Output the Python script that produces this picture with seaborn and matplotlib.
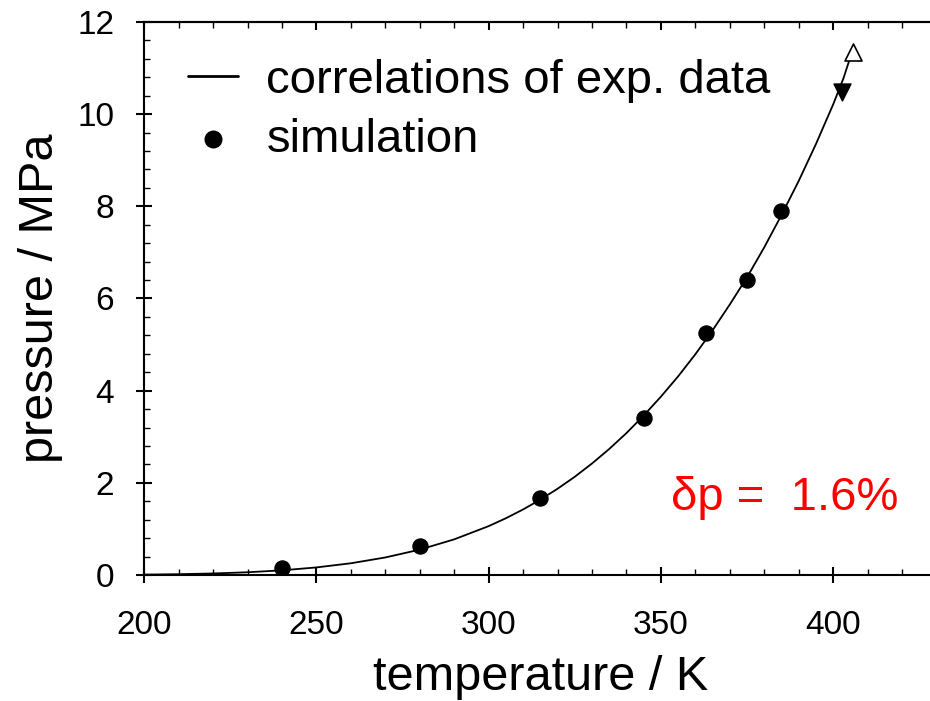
import matplotlib
matplotlib.use("Agg")
import matplotlib.pyplot as plt
import seaborn as sns
from matplotlib.ticker import MultipleLocator

corr_T = [200, 210, 220, 230, 240, 250, 260, 270, 280, 290, 300, 305, 310, 315,
          320, 325, 330, 335, 340, 345, 350, 355, 360, 365, 370, 375, 380, 385,
          390, 395, 400, 403, 405.4]
corr_p = [0.009, 0.018, 0.034, 0.060, 0.102, 0.165, 0.255, 0.381, 0.551, 0.774,
          1.061, 1.232, 1.423, 1.636, 1.872, 2.132, 2.420, 2.735, 3.08, 3.46,
          3.87, 4.31, 4.79, 5.31, 5.87, 6.46, 7.11, 7.81, 8.55, 9.35, 10.21,
          10.78, 11.33]

# simulation results
sim_T = [240, 280, 315, 345, 363, 375, 385]
sim_p = [0.15, 0.62, 1.67, 3.40, 5.25, 6.40, 7.90]

# critical points
crit_sim_T, crit_sim_p = [402.6], [10.48]
crit_exp_T, crit_exp_p = [405.8], [11.35]

dev_text = "δp =  1.6%"

sns.set_style("ticks")
plt.rcParams['font.family'] = ['Liberation Sans', 'DejaVu Sans']
plt.rcParams['text.color'] = 'black'
plt.rcParams['axes.labelcolor'] = 'black'
plt.rcParams['xtick.color'] = 'black'
plt.rcParams['ytick.color'] = 'black'
plt.rcParams['axes.edgecolor'] = 'black'

fig = plt.figure(figsize=(9.3, 7.01), dpi=100)
ax = fig.add_axes([0.155, 0.1797, 0.852, 0.789])

sns.lineplot(x=corr_T, y=corr_p, ax=ax, color="black", lw=1.3,
             label="correlations of exp. data")
sns.scatterplot(x=sim_T, y=sim_p, ax=ax, color="black", s=120, marker="o",
                edgecolor="black", label="simulation", zorder=3)
sns.scatterplot(x=crit_sim_T, y=crit_sim_p, ax=ax, color="black", s=150,
                marker="v", edgecolor="black", zorder=3)
ax.scatter(crit_exp_T, crit_exp_p, s=150, marker="^", facecolor="white",
           edgecolor="black", linewidth=1.2, zorder=3)

ax.set_xlim(200, 430)
ax.set_ylim(0, 12)
ax.xaxis.set_major_locator(MultipleLocator(50))
ax.xaxis.set_minor_locator(MultipleLocator(10))
ax.yaxis.set_major_locator(MultipleLocator(2))
ax.yaxis.set_minor_locator(MultipleLocator(0.4))

for s in ax.spines.values():
    s.set_linewidth(1.5)
ax.spines['right'].set_visible(False)

ax.tick_params(which="major", direction="inout", length=11, width=1.5,
               labelsize=24)
ax.tick_params(axis="x", which="major", pad=20)
ax.tick_params(axis="y", which="major", pad=16)
ax.tick_params(which="minor", direction="in", length=4.5, width=1.0)

top = ax.secondary_xaxis("top")
top.xaxis.set_major_locator(MultipleLocator(50))
top.xaxis.set_minor_locator(MultipleLocator(10))
top.tick_params(which="major", direction="in", length=6, width=1.5, labeltop=False)
top.tick_params(which="minor", direction="in", length=4.5, width=1.0)
top.spines['top'].set_linewidth(1.5)

ax.set_xlabel("temperature / K", fontsize=35, labelpad=10)
ax.set_ylabel("pressure / MPa", fontsize=35, labelpad=10)

ax.text(0.665, 0.14, dev_text, transform=ax.transAxes, color="red",
        fontsize=34, ha="left", va="center")

leg = ax.legend(loc="upper left", bbox_to_anchor=(0.02, 0.985), frameon=False,
                fontsize=34, handlelength=1.05, handletextpad=0.6,
                labelspacing=0.32, borderaxespad=0.2)
for h in leg.legend_handles:
    try:
        h.set_linewidth(2)
    except Exception:
        pass

fig.savefig("out.png", dpi=100)
